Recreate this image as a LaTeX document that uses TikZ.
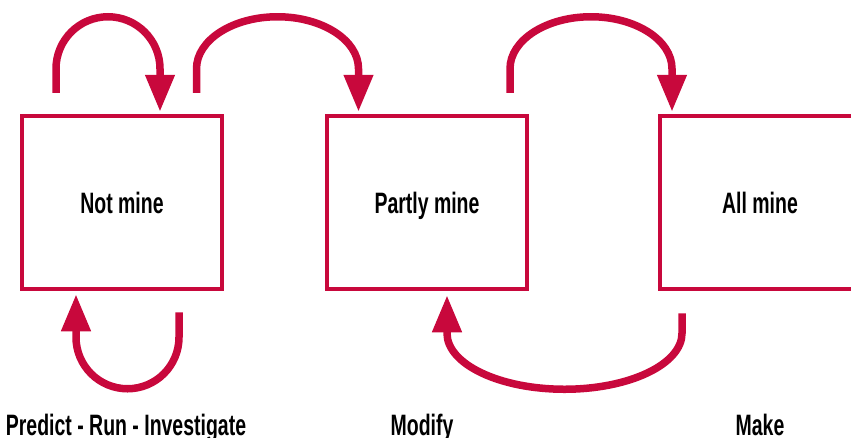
\documentclass[tikz,border=0pt]{standalone}
\usepackage{fontspec}
\newfontfamily\narrowfont[FakeStretch=0.66]{Liberation Sans}
\usetikzlibrary{arrows.meta,positioning}
\definecolor{ccrimson}{RGB}{200,8,60}
\tikzset{pimrm/.style={x=1pt,y=-1pt,font=\narrowfont\bfseries\fontsize{29.5}{34}\selectfont},
  stagebox/.style={draw=ccrimson,line width=4.5pt,minimum width=200pt,minimum height=173pt,text height=21pt,text depth=0pt},
  stagelbl/.style={anchor=base,inner sep=0pt},
  cyc/.style={draw=ccrimson,line width=7.5pt,-{Triangle[length=37pt,width=28pt]}}}

\begin{document}
\begin{tikzpicture}[pimrm]
    \useasboundingbox (0,0) rectangle (851,437);
    \node[stagebox] (nm) at (122,202.5) {Not mine};
    \node[stagebox] (pm) at (427,202.5) {Partly mine};
    \node[stagebox] (am) at (760,202.5) {All mine};   % runs off the right edge
    \node[stagelbl] (nml) at (126,435) {Predict - Run - Investigate};
    \node[stagelbl] (pml) at (422,435) {Modify};
    \node[stagelbl] (aml) at (760,435) {Make};
    % arcs over the top
    \draw[cyc] ([xshift=-66pt,yshift=21pt]nm.north) -- ++(0,-24)
      arc[start angle=180,end angle=360,radius=52] -- ([xshift=38pt,yshift=2pt]nm.north);
    \draw[cyc] ([xshift=74.5pt,yshift=21pt]nm.north) -- ++(0,-24)
      arc[start angle=180,end angle=360,x radius=81,y radius=52] -- ([xshift=-68.5pt,yshift=2pt]pm.north);
    \draw[cyc] ([xshift=83pt,yshift=21pt]pm.north) -- ++(0,-24)
      arc[start angle=180,end angle=360,x radius=81,y radius=52] -- ([xshift=-88pt,yshift=2pt]am.north);
    % loops underneath
    \draw[cyc] ([xshift=57pt,yshift=-21pt]nm.south) -- ++(0,25)
      arc[start angle=0,end angle=180,radius=51.5] -- ([xshift=-46pt,yshift=-3pt]nm.south);
    \draw[cyc] ([xshift=-78pt,yshift=-22pt]am.south) -- ++(0,20)
      arc[start angle=0,end angle=180,x radius=117.5,y radius=56] -- ([xshift=20pt,yshift=-4pt]pm.south);
\end{tikzpicture}
\end{document}
